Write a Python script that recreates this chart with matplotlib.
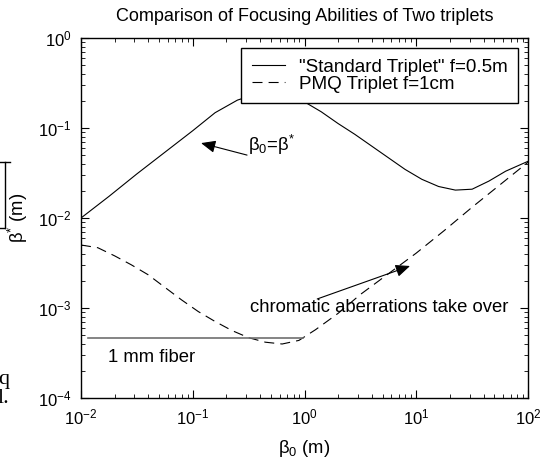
import matplotlib
matplotlib.use("Agg")
import matplotlib.pyplot as plt
from matplotlib.lines import Line2D
import numpy as np

plt.rcParams['font.family'] = ['Liberation Sans', 'DejaVu Sans']
plt.rcParams['mathtext.default'] = 'regular'

# values (log10 of beta0 and beta*)
std_log_b0 = [-2.0, -1.75, -1.5, -1.25, -1.0, -0.8, -0.6, -0.45, -0.3, -0.15, 0.0,
              0.15, 0.3, 0.45, 0.6, 0.75, 0.9, 1.05, 1.2, 1.35, 1.5, 1.65, 1.8, 2.0]
std_log_bs = [-2.0, -1.76, -1.51, -1.27, -1.03, -0.83, -0.69, -0.63, -0.61, -0.64, -0.71,
              -0.82, -0.95, -1.07, -1.2, -1.33, -1.46, -1.57, -1.65, -1.69, -1.68, -1.59, -1.48, -1.37]

pmq_log_b0 = [-2.0, -1.85, -1.7, -1.55, -1.4, -1.25, -1.1, -0.95, -0.8, -0.65, -0.5, -0.35,
              -0.2, -0.05, 0.1, 0.3, 0.5, 0.75, 1.0, 1.25, 1.5, 1.75, 2.0]
pmq_log_bs = [-2.30, -2.33, -2.42, -2.52, -2.63, -2.77, -2.91, -3.04, -3.15, -3.25, -3.33, -3.38,
              -3.40, -3.36, -3.24, -3.06, -2.85, -2.62, -2.39, -2.14, -1.88, -1.63, -1.38]

fiber_b0 = [0.0115, 0.97]
fiber_bs = [4.64e-4, 4.64e-4]

std_b0 = 10 ** np.array(std_log_b0)
std_bs = 10 ** np.array(std_log_bs)
pmq_b0 = 10 ** np.array(pmq_log_b0)
pmq_bs = 10 ** np.array(pmq_log_bs)

fs = 13.3

fig = plt.figure(figsize=(5.45, 4.66), dpi=100)
ax = fig.add_axes([81/545, 68/466, 447/545, 360/466])

ax.loglog(std_b0, std_bs, color='black', lw=0.8, label='"Standard Triplet" f=0.5m')
ax.loglog(pmq_b0, pmq_bs, color='black', lw=0.8, linestyle=(0, (9, 5.5)), label='PMQ Triplet f=1cm')
ax.plot(fiber_b0, fiber_bs, color='#707070', lw=1.2)

ax.set_xlim(1e-2, 1e2)
ax.set_ylim(1e-4, 1e0)

ax.tick_params(which='both', direction='in', top=True, right=True, labelsize=12)
ax.tick_params(which='major', length=6, width=0.8, pad=7)
ax.tick_params(which='minor', length=3, width=0.6)
for s in ax.spines.values():
    s.set_linewidth(1.0)

ax.set_title('Comparison of Focusing Abilities of Two triplets', fontsize=13, pad=12)
ax.set_xlabel('β$_0$ (m)', fontsize=fs)
ax.set_ylabel('β$^{*}$ (m)', fontsize=fs)
ax.xaxis.set_label_coords(0.5, -0.112)
ax.yaxis.set_label_coords(-0.114, 0.5)

leg = ax.legend(loc='upper right', bbox_to_anchor=(0.978, 0.972), borderaxespad=0,
                fancybox=False, framealpha=1, edgecolor='black', fontsize=13.6,
                handlelength=1.75, handletextpad=0.75, labelspacing=0.0, borderpad=0.55)
leg.get_frame().set_linewidth(1.0)

arrow = dict(arrowstyle='-|>,head_length=0.35,head_width=0.15', color='black',
             lw=0.8, mutation_scale=25, shrinkA=0, shrinkB=0)
ax.annotate('', xy=(0.1186, 0.068), xytext=(0.306, 0.050), arrowprops=arrow)
ax.text(0.313, 0.0647, 'β$_0$=β$^{*}$', fontsize=fs, va='center', ha='left')

ax.annotate('', xy=(8.8, 2.93e-3), xytext=(1.30, 1.26e-3), arrowprops=arrow)
ax.text(0.326, 1.0e-3, 'chromatic aberrations take over', fontsize=fs, va='center', ha='left')

ax.text(0.01745, 2.85e-4, '1 mm fiber', fontsize=fs, va='center', ha='left')

# pieces of a neighbouring figure cut off at the left edge
W, H = 545.0, 466.0
for xs, ys in [([0, 10], [162, 162]), ([5, 5], [162, 228]), ([0, 5], [228, 228])]:
    fig.add_artist(Line2D([x / W for x in xs], [1 - y / H for y in ys], color='black', lw=1.0))
fig.text(9 / W, 1 - 384 / H, 'q', ha='right', va='baseline', fontsize=16, family='Liberation Serif')
fig.text(9 / W, 1 - 403 / H, 'l.', ha='right', va='baseline', fontsize=16, family='Liberation Serif')

fig.savefig('out.png', dpi=100)
